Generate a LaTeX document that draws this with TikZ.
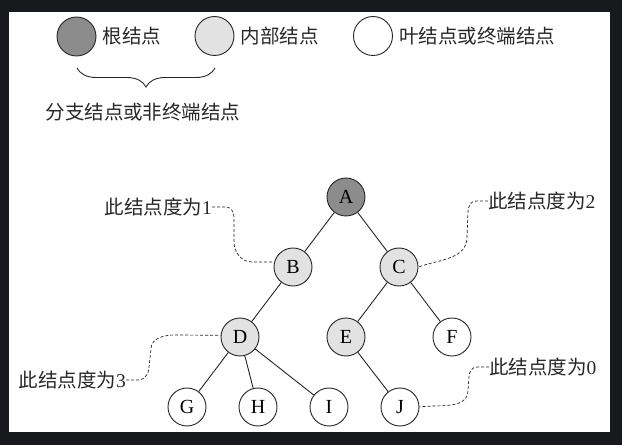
\documentclass[tikz,border=0pt]{standalone}
\usepackage{fontspec}
\setmainfont{Liberation Serif}
\newfontfamily\cjk{Noto Sans CJK SC}
\usepackage{tikz}
\usetikzlibrary{positioning,decorations.pathreplacing}
\definecolor{frameclr}{RGB}{24,25,29}
\definecolor{rootclr}{RGB}{140,140,140}
\definecolor{innerclr}{RGB}{226,226,226}
\definecolor{inkclr}{RGB}{40,40,40}

\begin{document}
\begin{tikzpicture}[
    x=1pt, y=1pt,
    every node/.style={font=\fontsize{19.5}{22}\selectfont, text=inkclr},
    vtx/.style={circle, draw=black!85, line width=0.9pt, minimum size=38pt,
      inner sep=0pt, fill=white, font=\fontsize{20}{22}\selectfont, text=black},
    rootvtx/.style={vtx, fill=rootclr},
    innervtx/.style={vtx, fill=innerclr},
    link/.style={black!85, line width=0.9pt},
    leader/.style={black!85, line width=0.7pt, dash pattern=on 3pt off 2pt},
    lbl/.style={inner sep=0pt},
  ]
    % Dark frame round the white sheet
    \fill[frameclr] (0,0) rectangle (622,445);
    \fill[white] (9,13) rectangle (610,433);

    % --- legend row
    \node[rootvtx, minimum size=39pt] (rootkey) at (76.5,408.5) {};
    \node[lbl, right=6pt of rootkey] (rootkeylbl) {\cjk 根结点};
    \node[innervtx, minimum size=39pt] (innerkey) at (214.5,409) {};
    \node[lbl, right=6pt of innerkey] (innerkeylbl) {\cjk 内部结点};
    \node[vtx, minimum size=39pt] (leafkey) at (373,409) {};
    \node[lbl, right=6pt of leafkey] (leafkeylbl) {\cjk 叶结点或终端结点};

    % brace under root + inner keys
    \draw[link, decorate, decoration={brace, mirror, amplitude=19pt}]
      (77,377) -- (215,377);
    \node[lbl] (branchlbl) at (143,333) {\cjk 分支结点或非终端结点};

    % --- tree, rows at y = 248, 178, 108, 38
    \node[rootvtx]  (a) at (346,248) {A};
    \node[innervtx] (b) at (293,178) {B};
    \node[innervtx] (c) at (399,178) {C};
    \node[innervtx] (d) at (240,108) {D};
    \node[innervtx] (e) at (346,108) {E};
    \node[vtx]      (f) at (452,108) {F};
    \node[vtx]      (g) at (187,38) {G};
    \node[vtx]      (h) at (258,38) {H};
    \node[vtx]      (i) at (329,38) {I};
    \node[vtx]      (j) at (400,38) {J};

    \foreach \u/\v in {a/b, a/c, b/d, c/e, c/f, d/g, d/h, d/i, e/j} {
      \draw[link] (\u) -- (\v);
    }

    % --- degree notes with dashed leaders
    \node[lbl, anchor=east] (l1) at (212,238) {{\cjk 此结点度为}1};
    \draw[leader] (l1.east) -- (226,238) to[out=0,in=90] (234,228)
      -- (234,203) to[out=-90,in=180] (252,183) -- (b.165);

    \node[lbl, anchor=west] (l2) at (488,244) {{\cjk 此结点度为}2};
    \draw[leader] (l2.west) -- (476,244) to[out=180,in=90] (468,233)
      -- (467,208) to[out=-90,in=20] (c.east);

    \node[lbl, anchor=east] (l3) at (126,65) {{\cjk 此结点度为}3};
    \draw[leader] (l3.east) -- (138,65) to[out=0,in=-90] (149,78)
      -- (151,96) to[out=90,in=180] (175,110) -- (d.175);

    \node[lbl, anchor=west] (l0) at (489,78) {{\cjk 此结点度为}0};
    \draw[leader] (l0.west) -- (477,78) to[out=180,in=90] (469,68)
      -- (468,55) to[out=-90,in=8] (j.east);
  \end{tikzpicture}
\end{document}
